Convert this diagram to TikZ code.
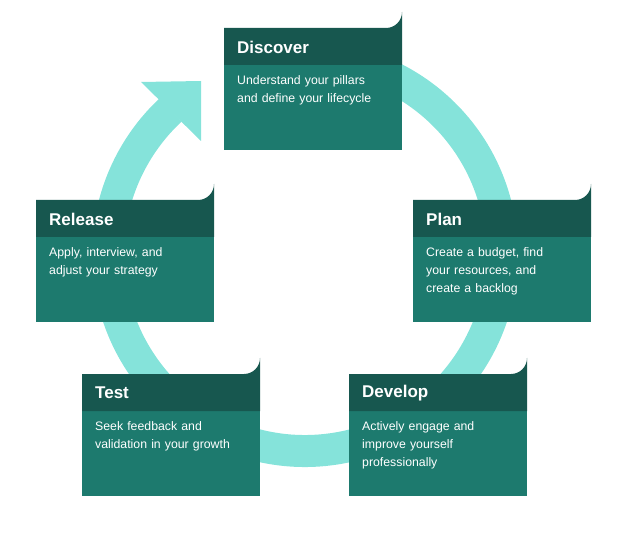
\documentclass[tikz,border=0pt]{standalone}
\usepackage{fontspec}
\setmainfont{Liberation Sans}
\definecolor{ringc}{HTML}{85E3DA}
\definecolor{headc}{HTML}{17574F}
\definecolor{bodyc}{HTML}{1D7A6E}
\tikzset{
  ttl/.style={anchor=west,text=white,font=\fontsize{17}{20}\selectfont\bfseries,inner sep=0},
  txt/.style={anchor=north west,text=white,align=left,font=\fontsize{12.3}{18}\selectfont,inner sep=0,text width=160pt},
}
\newcommand\stagebox[5]{%
  \fill[bodyc] (#1,#2+36) rectangle (#1+178,#2+122);
  \fill[headc] (#1,#2+37) -- (#1,#2) -- (#1+162,#2) arc[start angle=90,end angle=0,radius=16] -- (#1+178,#2+37) -- cycle;
  \node[ttl] (#3) at (#1+13,#2+19) {#4};
  \node[txt] (#3t) at (#1+13,#2+47) {#5};
}
\begin{document}
\begin{tikzpicture}[x=1pt,y=-1pt]
\useasboundingbox (0,0) rectangle (632,545);
% ring
\draw[ringc,line width=32pt] (305,254) ++(100:-197 and 197) ;
\draw[ringc,line width=32pt] ({305+197*cos(100)},{254-197*sin(100)}) arc[start angle=-100,end angle=227,radius=197];
\fill[ringc] (141,82) -- (201,81) -- (201,141) -- cycle;
\stagebox{224}{28}{discover}{Discover}{Understand your pillars\\and define your lifecycle}
\stagebox{413}{200}{plan}{Plan}{Create a budget, find\\your resources, and\\create a backlog}
\stagebox{349}{374}{develop}{Develop}{Actively engage and\\improve yourself\\professionally}
\stagebox{82}{374}{test}{Test}{Seek feedback and\\validation in your growth}
\stagebox{36}{200}{release}{Release}{Apply, interview, and\\adjust your strategy}
\end{tikzpicture}
\end{document}
